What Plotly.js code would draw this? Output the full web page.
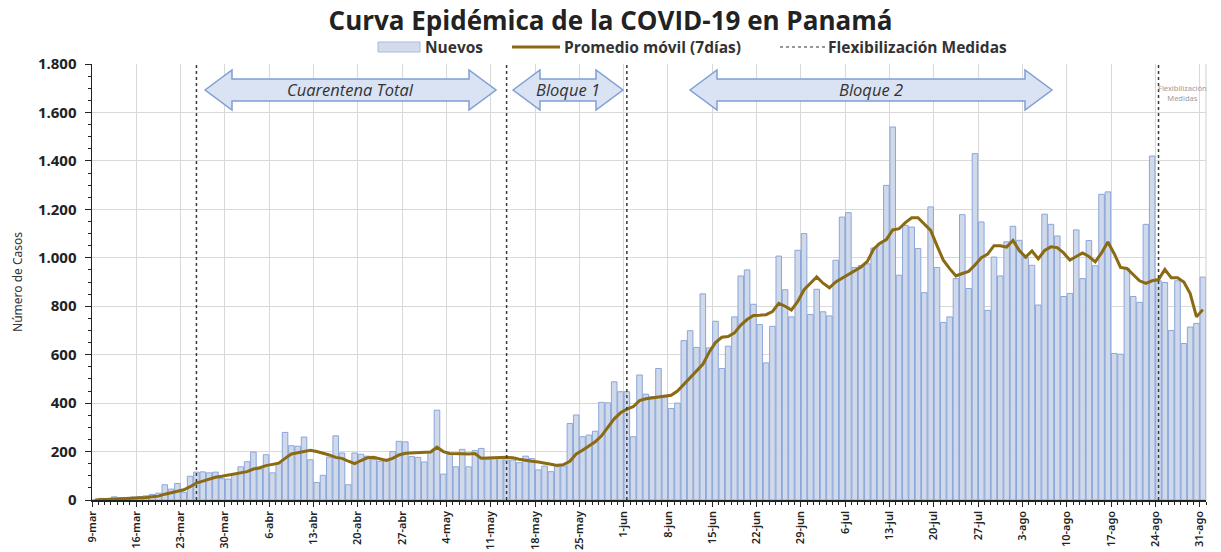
<!DOCTYPE html>
<html>
<head>
<meta charset="utf-8">
<script src="https://cdn.plot.ly/plotly-3.0.1.min.js"></script>
<style>html,body{margin:0;padding:0;background:#fff;}#chart{width:1221px;height:552px;}</style>
</head>
<body>
<div id="chart"></div>
<script>
// Daily new cases, 9-mar to 31-ago (one row = one week)
const nuevos = [
  1, 7, 6, 13, 9, 7, 12,
  14, 17, 23, 28, 63, 45, 68,
  32, 98, 115, 116, 112, 115, 88,
  86, 106, 137, 158, 198, 128, 187,
  112, 152, 279, 224, 222, 260, 166,
  72, 102, 177, 265, 194, 63, 194,
  189, 181, 167, 160, 168, 200, 242,
  240, 179, 176, 157, 198, 371, 107,
  192, 137, 209, 137, 204, 213, 169,
  176, 176, 165, 165, 154, 181, 171,
  124, 140, 117, 144, 140, 316, 351,
  261, 268, 284, 403, 401, 488, 447,
  447, 261, 516, 437, 426, 543, 426,
  378, 400, 658, 699, 630, 851, 628,
  738, 543, 635, 756, 925, 950, 808,
  724, 566, 717, 1007, 868, 756, 1031,
  1100, 766, 870, 777, 760, 990, 1168,
  1186, 960, 968, 975, 1040, 1060, 1299,
  1540, 928, 1134, 1127, 1038, 856, 1210,
  960, 733, 756, 914, 1178, 873, 1430,
  1148, 783, 1003, 925, 1066, 1130, 1072,
  1000, 969, 805, 1180, 1138, 1090, 840,
  853, 1115, 914, 1071, 967, 1262, 1272,
  605, 602, 956, 840, 816, 1138, 1420,
  905, 898, 700, 905, 646, 714, 729,
  920
];
// 7-day moving average as drawn
const promedio = [
  0, 1, 1, 2, 3, 4, 5,
  7, 10, 13, 16, 24, 30, 38,
  42, 55, 70, 78, 87, 94, 98,
  103, 107, 112, 117, 128, 133, 142,
  148, 152, 172, 190, 195, 200, 205,
  200, 194, 186, 176, 172, 160, 150,
  163, 174, 176, 170, 163, 172, 186,
  193, 195, 195, 196, 198, 218, 200,
  192, 190, 191, 190, 192, 172, 174,
  176, 175, 176, 174, 168, 163, 160,
  157, 154, 148, 143, 146, 160, 190,
  205, 222, 240, 265, 300, 335, 360,
  375, 385, 410, 418, 422, 426, 428,
  432, 450, 478, 505, 530, 560, 610,
  650, 672, 675, 690, 722, 745, 762,
  763, 765, 778, 812, 800, 784, 820,
  868, 895, 921, 895, 876, 900, 915,
  930, 945, 962, 985, 1037, 1060, 1075,
  1115, 1120, 1145, 1165, 1165, 1140, 1113,
  1050, 990, 955, 925, 935, 944, 970,
  1000, 1015, 1050, 1050, 1044, 1072, 1030,
  1003, 1028, 996, 1030, 1045, 1042, 1020,
  990, 1005, 1020, 1005, 983, 1020, 1065,
  1017, 960, 956, 930, 905, 894, 905,
  910, 952, 918, 918, 900, 852, 756,
  786
];
const tickLabels = ['9-mar','16-mar','23-mar','30-mar','6-abr','13-abr','20-abr','27-abr',
  '4-may','11-may','18-may','25-may','1-jun','8-jun','15-jun','22-jun','29-jun',
  '6-jul','13-jul','20-jul','27-jul','3-ago','10-ago','17-ago','24-ago','31-ago'];
// day index (from 9-mar) of each measure change
const flexDias = [16, 65, 84, 168];
const flexLabels = ['25-mar','13-may','1-jun','24-ago'];

const dias = nuevos.map((_, i) => i);
const tickVals = tickLabels.map((_, i) => i * 7 - 0.5);

// layout helpers (pixel -> paper)
const L = 92, R = 15, T = 64, B = 52, W = 1221, H = 552;
const PW = W - L - R, PH = H - T - B;
const fx = p => (p - L) / PW;
const fy = p => (H - B - p) / PH;

function arrowPath(xl, xr, yc) {
  const hl = 27, hh = 20, bh = 11;
  const pts = [[xl, yc], [xl + hl, yc - hh], [xl + hl, yc - bh], [xr - hl, yc - bh], [xr - hl, yc - hh],
    [xr, yc], [xr - hl, yc + hh], [xr - hl, yc + bh], [xl + hl, yc + bh], [xl + hl, yc + hh]];
  return 'M' + pts.map(p => fx(p[0]).toFixed(5) + ',' + fy(p[1]).toFixed(5)).join(' L') + ' Z';
}

const shapes = [];
const annotations = [];

flexDias.forEach(d => shapes.push({type: 'line', xref: 'x', yref: 'paper', x0: d, x1: d, y0: 0, y1: 1,
  line: {color: '#3a3a3a', width: 1.5, dash: 'dot'}}));
// right border
shapes.push({type: 'line', xref: 'paper', yref: 'paper', x0: 1, x1: 1, y0: 0, y1: 1, line: {color: '#d0d0d0', width: 1}});

const arrows = [
  {xl: 205, xr: 496, text: 'Cuarentena Total'},
  {xl: 513, xr: 623, text: 'Bloque 1'},
  {xl: 690, xr: 1052, text: 'Bloque 2'}
];
arrows.forEach(a => {
  shapes.push({type: 'path', xref: 'paper', yref: 'paper', path: arrowPath(a.xl, a.xr, 90),
    fillcolor: '#dae3f3', line: {color: '#7f9fd2', width: 1.5}});
  annotations.push({xref: 'paper', yref: 'paper', x: fx((a.xl + a.xr) / 2), y: fy(90), text: '<i>' + a.text + '</i>',
    showarrow: false, xanchor: 'center', yanchor: 'middle',
    font: {family: 'Open Sans, Noto Sans, sans-serif', size: 16.5, color: '#333'}});
});
annotations.push({xref: 'paper', yref: 'paper', x: fx(1182), y: fy(93), text: 'Flexibilización<br>Medidas',
  showarrow: false, xanchor: 'center', yanchor: 'middle',
  font: {family: 'Noto Sans, sans-serif', size: 7.5, color: '#9a9a9a'}});

// legend (drawn manually)
const legFont = {family: 'Open Sans, Noto Sans, sans-serif', size: 15.5, color: '#333', weight: 'bold'};
shapes.push({type: 'rect', xref: 'paper', yref: 'paper', x0: fx(378), x1: fx(420), y0: fy(52), y1: fy(42),
  fillcolor: '#d3dbea', line: {color: '#a9bce0', width: 1}});
annotations.push({xref: 'paper', yref: 'paper', x: fx(423), y: fy(47), text: 'Nuevos', showarrow: false,
  xanchor: 'left', yanchor: 'middle', font: legFont});
shapes.push({type: 'line', xref: 'paper', yref: 'paper', x0: fx(512), x1: fx(560), y0: fy(47), y1: fy(47),
  line: {color: '#8a6a12', width: 3}});
annotations.push({xref: 'paper', yref: 'paper', x: fx(562), y: fy(47), text: 'Promedio móvil (7días)', showarrow: false,
  xanchor: 'left', yanchor: 'middle', font: legFont});
shapes.push({type: 'line', xref: 'paper', yref: 'paper', x0: fx(780), x1: fx(825), y0: fy(47), y1: fy(47),
  line: {color: '#333', width: 1.2, dash: 'dot'}});
annotations.push({xref: 'paper', yref: 'paper', x: fx(826), y: fy(47), text: 'Flexibilización Medidas', showarrow: false,
  xanchor: 'left', yanchor: 'middle', font: legFont});

const traces = [
  {type: 'bar', name: 'Nuevos', x: dias, y: nuevos,
    marker: {color: '#d0d9ea', line: {color: '#8aa6da', width: 1}}, hoverinfo: 'y'},
  {type: 'scatter', mode: 'lines', name: 'Promedio móvil (7días)', x: dias, y: promedio,
    line: {color: '#8a6a12', width: 3}, hoverinfo: 'y'}
];

const layout = {
  width: W, height: H,
  margin: {l: L, r: R, t: T, b: B},
  paper_bgcolor: '#fff', plot_bgcolor: '#fff',
  separators: ',.',
  showlegend: false,
  bargap: 0.12,
  title: {text: '<b>Curva Epidémica de la COVID-19 en Panamá</b>', x: 0.5, xref: 'container', xanchor: 'center',
    y: 1 - 21 / H, yanchor: 'middle',
    font: {family: 'Open Sans, Noto Sans, sans-serif', size: 26, color: '#222'}},
  xaxis: {
    range: [-0.5, 175.5], tickmode: 'array', tickvals: tickVals, ticktext: tickLabels,
    tickangle: -90, ticks: 'outside', ticklen: 5, tickcolor: '#222', ticklabelstandoff: 0,
    tickfont: {family: 'Noto Sans, sans-serif', size: 11, color: '#222', weight: 600},
    showgrid: true, gridcolor: '#d9d9d9', gridwidth: 1,
    showline: true, linecolor: '#222', linewidth: 1.5, zeroline: false,
    minor: {tickmode: 'linear', tick0: -0.5, dtick: 1, ticks: 'outside', ticklen: 3, tickcolor: '#222', showgrid: false}
  },
  yaxis: {
    range: [0, 1800], tickmode: 'linear', tick0: 0, dtick: 200, tickformat: ',d',
    ticks: 'outside', ticklen: 6, tickcolor: '#222', ticklabelstandoff: 5,
    tickfont: {family: 'Open Sans, Noto Sans, sans-serif', size: 15, color: '#222', weight: 'bold'},
    showgrid: true, gridcolor: '#d9d9d9', gridwidth: 1,
    showline: true, linecolor: '#222', linewidth: 1.5, zeroline: false,
    minor: {tickmode: 'linear', tick0: 0, dtick: 50, ticks: 'outside', ticklen: 3, tickcolor: '#222', showgrid: false},
    title: {text: 'Número de Casos', standoff: 12, font: {family: 'Noto Sans, sans-serif', size: 12, color: '#333'}}
  },
  shapes: shapes,
  annotations: annotations
};

Plotly.newPlot('chart', traces, layout, {displayModeBar: false, staticPlot: true});
</script>
</body>
</html>
